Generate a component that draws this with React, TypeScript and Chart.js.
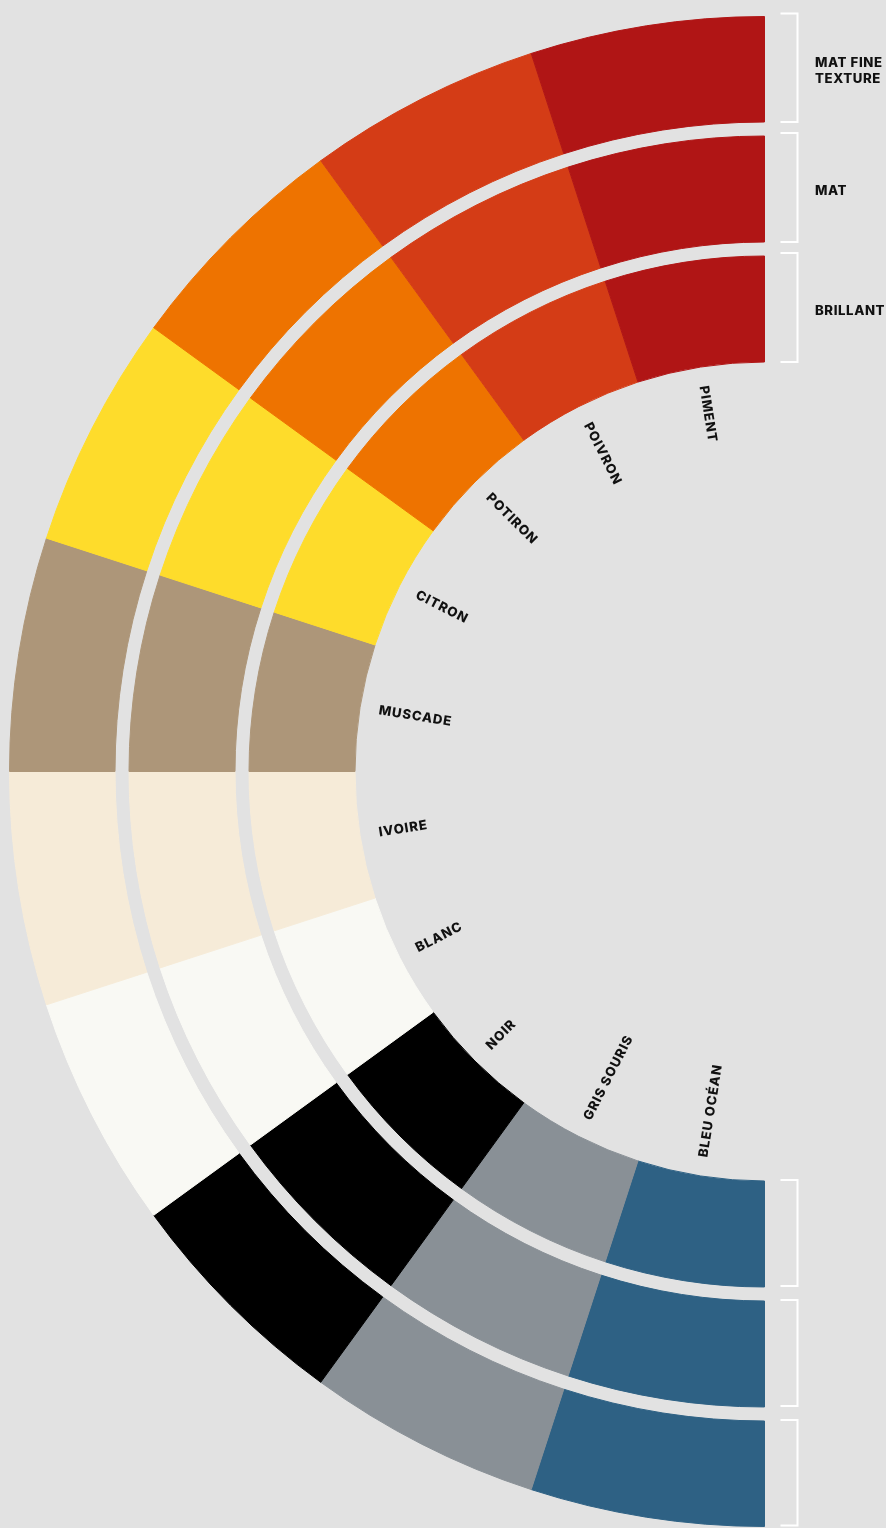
import React, { useEffect, useRef } from "react";
import { Chart, registerables } from "chart.js";

Chart.register(...registerables);

// Colour families, listed from the top of the half-ring to the bottom
const categories = [
  "PIMENT",
  "POIVRON",
  "POTIRON",
  "CITRON",
  "MUSCADE",
  "IVOIRE",
  "BLANC",
  "NOIR",
  "GRIS SOURIS",
  "BLEU OCÉAN",
];
const colors = [
  "#B01515",
  "#D43C16",
  "#EE7300",
  "#FEDC2B",
  "#AD9679",
  "#F6EBD8",
  "#F9F9F4",
  "#000000",
  "#899096",
  "#2E6184",
];
// Finishes, outer ring to inner ring
const finishes = ["MAT FINE TEXTURE", "MAT", "BRILLANT"];
const finishLabelLines = [["MAT FINE", "TEXTURE"], ["MAT"], ["BRILLANT"]];
// Each colour occupies an equal share of every ring
const matFineTexture = [1, 1, 1, 1, 1, 1, 1, 1, 1, 1];
const mat = [1, 1, 1, 1, 1, 1, 1, 1, 1, 1];
const brillant = [1, 1, 1, 1, 1, 1, 1, 1, 1, 1];

const BG = "#E2E2E2";
const TEXT = "#111111";
const FONT = '800 13.2px Inter, "Open Sans", sans-serif';

// Chart.js draws clockwise from the bottom, so reverse the order
const chartLabels = [...categories].reverse();
const chartColors = [...colors].reverse();
const ringIndex = [0, 2, 4];

const overlayPlugin = {
  id: "overlay",
  afterDatasetsDraw(chart: any) {
    const ctx = chart.ctx as CanvasRenderingContext2D;
    ctx.save();

    // radial colour names inside the hole
    const innerMeta = chart.getDatasetMeta(4);
    ctx.font = FONT;
    (ctx as any).letterSpacing = "0.9px";
    ctx.fillStyle = TEXT;
    ctx.textAlign = "left";
    ctx.textBaseline = "middle";
    innerMeta.data.forEach((arc: any, i: number) => {
      const p = arc.getProps(["x", "y", "startAngle", "endAngle", "innerRadius"], true);
      const mid = (p.startAngle + p.endAngle) / 2;
      const r = p.innerRadius - 19;
      ctx.save();
      ctx.translate(p.x + Math.cos(mid) * r, p.y + Math.sin(mid) * r);
      ctx.rotate(mid + Math.PI);
      ctx.fillText(chartLabels[i], 0, 0);
      ctx.restore();
    });

    // brackets + finish labels on the right
    ctx.strokeStyle = "#FFFFFF";
    ctx.lineWidth = 2;
    ctx.lineJoin = "miter";
    (ctx as any).letterSpacing = "0.6px";
    ctx.textBaseline = "middle";
    ringIndex.forEach((dsIdx, k) => {
      const arc: any = chart.getDatasetMeta(dsIdx).data[0];
      const p = arc.getProps(["x", "y", "outerRadius", "innerRadius"], true);
      const cx = p.x;
      const cy = p.y;
      const xs = cx + 16;
      const xv = cx + 33;
      // top bracket
      const t1 = cy - p.outerRadius - 3;
      const t2 = cy - p.innerRadius;
      ctx.beginPath();
      ctx.moveTo(xs, t1);
      ctx.lineTo(xv, t1);
      ctx.lineTo(xv, t2);
      ctx.lineTo(xs, t2);
      ctx.stroke();
      // bottom bracket
      const b1 = cy + p.innerRadius - 1;
      const b2 = cy + p.outerRadius - 1;
      ctx.beginPath();
      ctx.moveTo(xs, b1);
      ctx.lineTo(xv, b1);
      ctx.lineTo(xv, b2);
      ctx.lineTo(xs, b2);
      ctx.stroke();
      // label
      const lines = finishLabelLines[k];
      const mid = cy - (p.outerRadius + p.innerRadius) / 2 + 2;
      const lh = 16.5;
      lines.forEach((ln, j) => {
        const y = mid + (j - (lines.length - 1) / 2) * lh;
        ctx.fillText(ln, cx + 50.5, y);
      });
    });
    ctx.restore();
  },
};

export default function App() {
  const ref = useRef<HTMLCanvasElement | null>(null);

  useEffect(() => {
    if (!ref.current) return;
    const ring = (label: string, values: number[], weight: number) => ({
      label,
      data: [...values].reverse(),
      backgroundColor: chartColors,
      borderColor: chartColors,
      borderWidth: 1,
      weight,
    });
    const spacer = (weight: number) => ({
      label: "",
      data: [...matFineTexture],
      backgroundColor: "rgba(0,0,0,0)",
      borderWidth: 0,
      weight,
    });
    const chart = new Chart(ref.current, {
      type: "doughnut",
      data: {
        labels: chartLabels,
        datasets: [
          ring(finishes[0], matFineTexture, 105.5),
          spacer(14),
          ring(finishes[1], mat, 106),
          spacer(14),
          ring(finishes[2], brillant, 106),
        ] as any,
      },
      options: {
        responsive: false,
        animation: false,
        events: [],
        rotation: 180,
        circumference: 180,
        cutout: "54.238%",
        layout: { padding: { left: 9, right: 121, top: 16, bottom: 1 } },
        plugins: {
          legend: { display: false },
          tooltip: { enabled: false },
        },
      } as any,
      plugins: [overlayPlugin],
    });
    return () => chart.destroy();
  }, []);

  return (
    <div
      style={{
        position: "absolute",
        left: 0,
        top: 0,
        width: 886,
        height: 1528,
        background: BG,
        overflow: "hidden",
      }}
    >
      <canvas ref={ref} width={886} height={1528} style={{ display: "block", width: 886, height: 1528 }} />
    </div>
  );
}
